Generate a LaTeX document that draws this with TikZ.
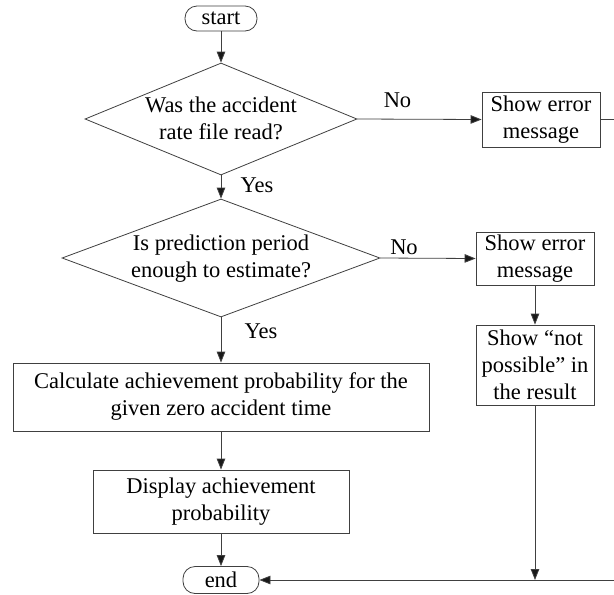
\documentclass[tikz,border=0pt]{standalone}
\usepackage{fontspec}
\setmainfont{Liberation Serif}
\newfontfamily\tnr{Liberation Serif}
\usetikzlibrary{shapes.geometric,arrows.meta}
\begin{document}
\begin{tikzpicture}[x=1pt,y=-1pt,
  fnt/.style={font=\tnr\fontsize{22.5}{27}\selectfont},
  line/.style={draw=black!75,line width=0.8pt},
  arr/.style={line,-{Triangle[length=11pt,width=8.5pt,fill=black!90]}},
  term/.style={line,fnt,rectangle,rounded corners=12pt,inner sep=0pt},
  proc/.style={line,fnt,rectangle,inner sep=0pt,align=center},
  dec/.style={line,diamond,inner sep=0pt},
  txt/.style={fnt,align=center,inner sep=0pt},
  lbl/.style={fnt,inner sep=0pt}]
\useasboundingbox (0,0) rectangle (614,595);
\fill[white] (0,0) rectangle (614,595);

\node[term,minimum width=72pt,minimum height=25pt] (start) at (221,18.5) {start};
\node[dec,minimum width=272pt,minimum height=112pt] (d1) at (221,119) {};
\node[txt] (t1) at (221,118.5) {Was the accident\\rate file read?};
\node[proc,minimum width=118pt,minimum height=55pt] (err1) at (541,119.5) {Show error\\message};
\node[dec,minimum width=318pt,minimum height=118pt] (d2) at (221,258) {};
\node[txt] (t2) at (221,258.5) {Is prediction period\\enough to estimate?};
\node[proc,minimum width=118pt,minimum height=53pt] (err2) at (535,258.5) {Show error\\message};
\node[proc,minimum width=118pt,minimum height=80pt] (np) at (535,365) {Show “not\\possible” in\\the result};
\node[proc,minimum width=416pt,minimum height=68pt] (calc) at (221,397) {Calculate achievement probability for the\\given zero accident time};
\node[proc,minimum width=256pt,minimum height=63pt] (disp) at (221,501.5) {Display achievement\\probability};
\node[term,minimum width=76pt,minimum height=27pt] (end) at (221,580) {end};

\node[lbl] (no1) at (397.5,100) {No};
\node[lbl] (yes1) at (257,185) {Yes};
\node[lbl] (no2) at (404,247) {No};
\node[lbl] (yes2) at (261,331) {Yes};

\coordinate (r1) at (618,119.5);
\coordinate (r2) at (618,580);
\coordinate (j) at (np.south |- end.east);

\draw[arr] (start) -- (d1.north);
\draw[arr] (d1.east) -- (err1.west);
\draw[arr] (d1.south) -- (d2.north);
\draw[arr] (d2.east) -- (err2.west);
\draw[arr] (err2) -- (np);
\draw[arr] (d2.south) -- (calc.north);
\draw[arr] (calc) -- (disp);
\draw[arr] (disp) -- (end);
\draw[arr] (np.south) -- (j);
\draw[arr] (err1.east) -- (r1) -- (r2) -- (end.east);
\end{tikzpicture}
\end{document}
